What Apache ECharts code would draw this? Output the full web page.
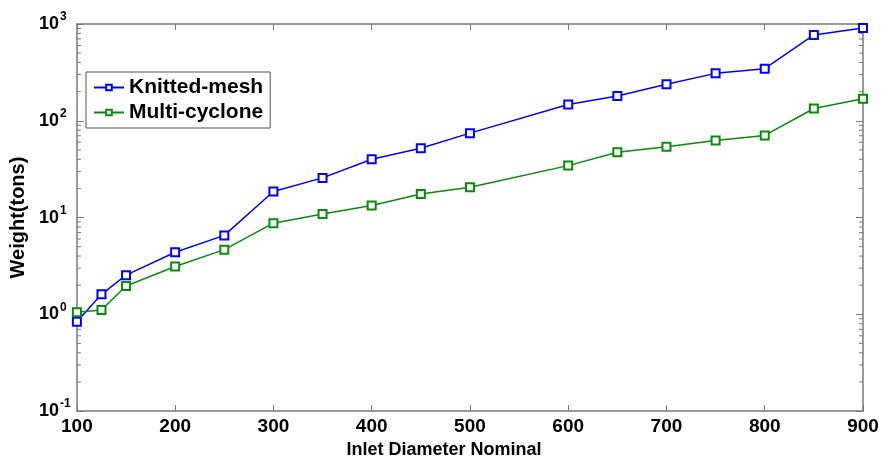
<!DOCTYPE html>
<html>
<head>
<meta charset="utf-8">
<script src="https://cdn.jsdelivr.net/npm/echarts@6/dist/echarts.min.js"></script>
<style>
  html, body { margin: 0; padding: 0; background: #fff; }
  #chart { width: 883px; height: 464px; }
</style>
</head>
<body>
<div id="chart"></div>
<script>
// Nominal inlet diameters (x positions of the samples)
const diameters = [100, 125, 150, 200, 250, 300, 350, 400, 450, 500, 600, 650, 700, 750, 800, 850, 900];
// Separator weight in tons
const knittedMesh = [0.84, 1.61, 2.54, 4.38, 6.54, 18.6, 25.7, 40.0, 51.9, 74.5, 147, 180, 239, 309, 345, 771, 910];
const multiCyclone = [1.05, 1.11, 1.96, 3.12, 4.66, 8.75, 10.9, 13.3, 17.5, 20.6, 34.4, 47.2, 53.9, 62.7, 70.5, 134, 169];
const seriesNames = ['Knitted-mesh', 'Multi-cyclone'];
// x tick values and log-axis decades
const xTicks = [100, 200, 300, 400, 500, 600, 700, 800, 900];
const yDecades = [-1, 0, 1, 2, 3];

const font = "'Liberation Sans', Arial, sans-serif";
const axisGray = '#7a7a7a';

// Minor log ticks: 2..9 within each decade
const minorTicks = [];
for (let d = yDecades[0]; d < yDecades[yDecades.length - 1]; d++) {
  for (let m = 2; m <= 9; m++) minorTicks.push([xTicks[0], m * Math.pow(10, d)]);
}

const pair = (xs, ys) => xs.map((x, i) => [x, ys[i]]);

const chart = echarts.init(document.getElementById('chart'), null, { renderer: 'canvas' });

const xBase = {
  type: 'value',
  min: xTicks[0],
  max: xTicks[xTicks.length - 1],
  interval: 100,
  axisLine: { show: true, onZero: false, lineStyle: { color: axisGray, width: 1.5 } },
  axisTick: { show: true, inside: true, length: 6, lineStyle: { color: axisGray, width: 1 } },
  splitLine: { show: false }
};
const yBase = {
  type: 'log',
  logBase: 10,
  min: Math.pow(10, yDecades[0]),
  max: Math.pow(10, yDecades[yDecades.length - 1]),
  splitNumber: 4,
  axisLine: { show: true, onZero: false, lineStyle: { color: axisGray, width: 1.5 } },
  axisTick: { show: true, inside: true, length: 7, lineStyle: { color: axisGray, width: 1 } },
  splitLine: { show: false }
};

chart.setOption({
  animation: false,
  backgroundColor: '#fff',
  grid: { left: 75, right: 20, top: 24, bottom: 50, containLabel: false },
  legend: {
    data: seriesNames,
    orient: 'vertical',
    left: 86,
    top: 72,
    padding: [5, 7, 5, 7],
    itemGap: 4,
    itemWidth: 30,
    itemHeight: 7,
    borderColor: '#555',
    borderWidth: 1,
    backgroundColor: '#fff',
    textStyle: { fontFamily: font, fontWeight: 'bold', fontSize: 21, color: '#000' }
  },
  xAxis: [
    Object.assign({}, xBase, {
      position: 'bottom',
      name: 'Inlet Diameter Nominal',
      nameLocation: 'middle',
      nameGap: 28,
      nameTextStyle: { fontFamily: font, fontWeight: 'bold', fontSize: 18, color: '#000', padding: [0, 52, 0, 0] },
      axisLabel: { show: true, margin: 6, fontFamily: font, fontWeight: 'bold', fontSize: 19, color: '#000' }
    }),
    Object.assign({}, xBase, { position: 'top', axisLabel: { show: false } })
  ],
  yAxis: [
    Object.assign({}, yBase, {
      position: 'left',
      name: 'Weight(tons)',
      nameLocation: 'middle',
      nameGap: 43,
      nameRotate: 90,
      nameTextStyle: { fontFamily: font, fontWeight: 'bold', fontSize: 20, color: '#000' },
      axisLabel: {
        show: true,
        margin: 38,
        align: 'left',
        formatter: v => '{b|10}{s|' + Math.round(Math.log10(v)) + '}',
        rich: {
          b: { fontFamily: font, fontWeight: 'bold', fontSize: 18, color: '#000' },
          s: { fontFamily: font, fontWeight: 'bold', fontSize: 12, color: '#000', padding: [0, 0, 14, 1] }
        }
      }
    }),
    Object.assign({}, yBase, { position: 'right', axisLabel: { show: false } })
  ],
  series: [
    {
      name: seriesNames[0],
      type: 'line',
      data: pair(diameters, knittedMesh),
      color: '#0000ff',
      lineStyle: { width: 1.5 },
      symbol: 'emptyRect',
      symbolSize: 8,
      itemStyle: { borderWidth: 1.5 },
      z: 3
    },
    {
      name: seriesNames[1],
      type: 'line',
      data: pair(diameters, multiCyclone),
      color: '#0a8a0a',
      lineStyle: { width: 1.5 },
      symbol: 'emptyRect',
      symbolSize: 8,
      itemStyle: { borderWidth: 1.5 },
      z: 3
    },
    {
      // short minor ticks on the left and right frame edges of the log axis
      type: 'custom',
      silent: true,
      data: minorTicks,
      renderItem: (params, api) => {
        const v = api.value(1);
        const l = api.coord([xTicks[0], v]);
        const r = api.coord([xTicks[xTicks.length - 1], v]);
        const len = 4;
        return {
          type: 'group',
          children: [
            { type: 'line', shape: { x1: l[0], y1: l[1], x2: l[0] + len, y2: l[1] }, style: { stroke: axisGray, lineWidth: 1 } },
            { type: 'line', shape: { x1: r[0], y1: r[1], x2: r[0] - len, y2: r[1] }, style: { stroke: axisGray, lineWidth: 1 } }
          ]
        };
      },
      z: 1
    }
  ]
});
</script>
</body>
</html>
